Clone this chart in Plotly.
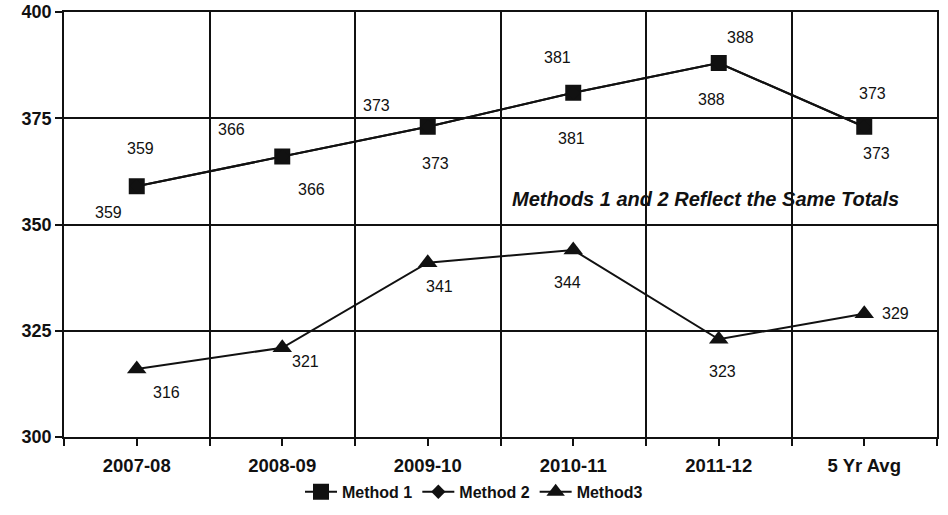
import plotly.graph_objects as go

# Seasons on the category axis
seasons = ["2007-08", "2008-09", "2009-10", "2010-11", "2011-12", "5 Yr Avg"]

# Totals per method
method1 = [359, 366, 373, 381, 388, 373]
method2 = [359, 366, 373, 381, 388, 373]
method3 = [316, 321, 341, 344, 323, 329]

# Pixel offsets of the value labels relative to their markers (dx, dy; dy down)
m1_label_offsets = [(4, -38), (-51, -27), (-51, -21), (-16, -35), (22, -26), (8, -33)]
m2_label_offsets = [(-28, 26), (29, 33), (8, 37), (-2, 46), (-7, 36), (12, 27)]
m3_label_offsets = [(30, 23), (23, 14), (12, 24), (-6, 32), (4, 32), (31, 0)]

FONT = "Arial, Liberation Sans, Helvetica, sans-serif"
INK = "#111111"
xs = list(range(len(seasons)))

fig = go.Figure()
fig.add_trace(go.Scatter(
    x=xs, y=method1, name="<b>Method 1</b>", mode="lines+markers",
    line=dict(color=INK, width=2),
    marker=dict(symbol="square", size=16, color=INK),
))
fig.add_trace(go.Scatter(
    x=xs, y=method2, name="<b>Method 2</b>", mode="lines+markers",
    line=dict(color=INK, width=2),
    marker=dict(symbol="diamond", size=11, color=INK),
))
fig.add_trace(go.Scatter(
    x=xs, y=method3, name="<b>Method3</b>", mode="lines+markers",
    line=dict(color=INK, width=2),
    marker=dict(symbol="triangle-up", size=17, color=INK),
))

annotations = []
for values, offsets in ((method1, m1_label_offsets),
                        (method2, m2_label_offsets),
                        (method3, m3_label_offsets)):
    for i, (v, (dx, dy)) in enumerate(zip(values, offsets)):
        annotations.append(dict(
            x=i, y=v, xref="x", yref="y", text=str(v), showarrow=False,
            xshift=dx, yshift=-dy,
            font=dict(family=FONT, size=16, color=INK),
        ))

annotations.append(dict(
    x=3.91, y=356, xref="x", yref="y", showarrow=False,
    text="<b><i>Methods 1 and 2 Reflect the Same Totals</i></b>",
    font=dict(family=FONT, size=20, color=INK),
))

fig.update_layout(
    width=948, height=515,
    margin=dict(l=64, r=11, t=12, b=78, autoexpand=False),
    paper_bgcolor="white", plot_bgcolor="white",
    font=dict(family=FONT, color=INK),
    showlegend=True,
    legend=dict(
        orientation="h", xref="container", yref="container",
        x=0.5, xanchor="center", y=0.045, yanchor="middle",
        font=dict(family=FONT, size=16, color=INK),
        itemwidth=32, traceorder="normal",
    ),
    annotations=annotations,
)

fig.update_xaxes(
    range=[-0.5, 5.5], tickmode="array", tickvals=xs,
    ticktext=[f"<b>{s}</b>" for s in seasons],
    tickfont=dict(family=FONT, size=18.5, color=INK),
    ticklabelstandoff=4,
    showgrid=False, zeroline=False, automargin=False,
    ticks="outside", ticklen=7, tickcolor=INK, tickwidth=1.8,
    showline=True, linecolor=INK, linewidth=1.8, mirror=True,
    minor=dict(tickmode="linear", tick0=-0.5, dtick=1, showgrid=True,
               gridcolor=INK, gridwidth=1.8, ticks="outside", ticklen=7,
               tickcolor=INK, tickwidth=1.8),
)
fig.update_yaxes(
    range=[300, 400], tickmode="linear", tick0=300, dtick=25,
    tickfont=dict(family=FONT, size=18, color=INK),
    tickprefix="<b>", ticksuffix="</b>", automargin=False,
    showgrid=True, gridcolor=INK, gridwidth=1.8, zeroline=False,
    ticks="outside", ticklen=7, tickcolor=INK, tickwidth=1.8,
    showline=True, linecolor=INK, linewidth=1.8, mirror=True,
)

fig.write_html("out.html")
